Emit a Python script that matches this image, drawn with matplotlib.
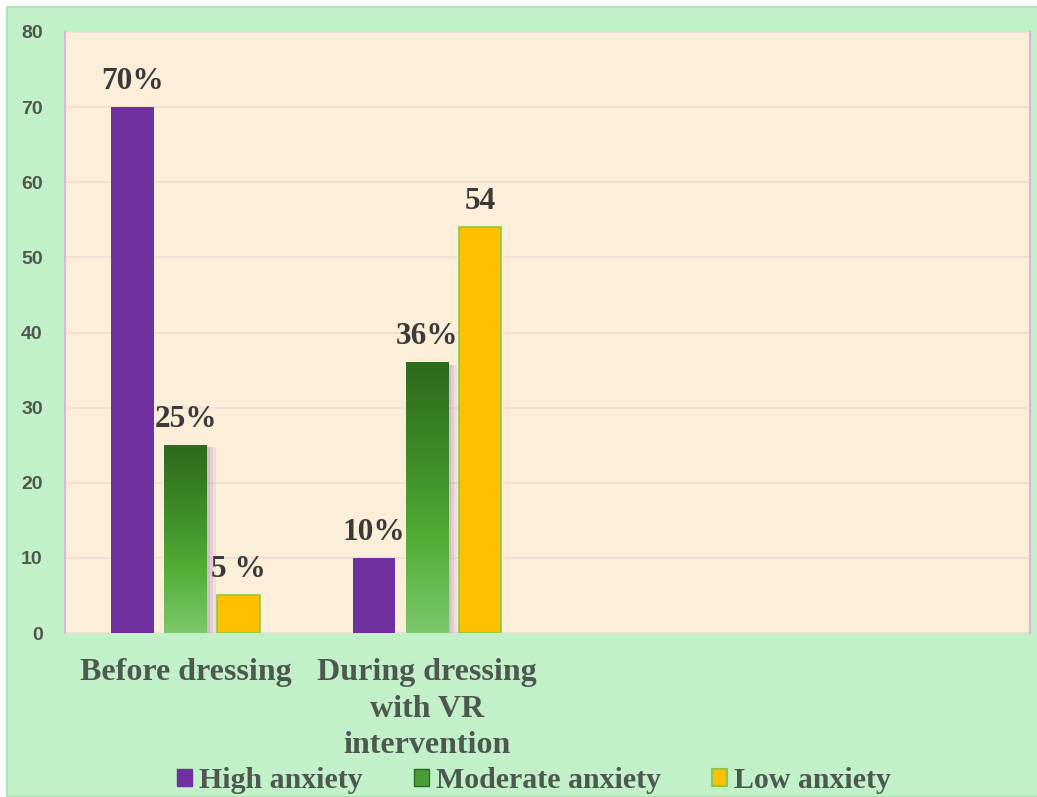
import numpy as np
import matplotlib
matplotlib.use("Agg")
import matplotlib.pyplot as plt
from matplotlib.patches import Patch, Rectangle
from matplotlib.colors import LinearSegmentedColormap

# ---- data ----
categories = ["Before dressing", "During dressing\nwith VR\nintervention", "", ""]
high_anxiety = [70, 10, None, None]
moderate_anxiety = [25, 36, None, None]
low_anxiety = [5, 54, None, None]
high_labels = ["70%", "10%"]
moderate_labels = ["25%", "36%"]
low_labels = ["5 %", "54"]
series_names = ["High anxiety", "Moderate anxiety", "Low anxiety"]
yticks = [0, 10, 20, 30, 40, 50, 60, 70, 80]

# ---- style ----
fig_green = "#C2F0C8"
plot_bg = "#FCEFDA"
grid_col = "#F1DCD6"
purple = "#7030A0"
yellow = "#FFC000"
text_col = "#4D5950"
label_col = "#3A3A3A"
green_cmap = LinearSegmentedColormap.from_list("g", ["#7CC86A", "#52AE37", "#3E8A27", "#2C6A1D"])

fig = plt.figure(figsize=(10.37, 7.97), dpi=100)
fig.patch.set_facecolor("white")
fig.patches.append(Rectangle((7 / 1037, 0), 1, 1 - 7 / 797, transform=fig.transFigure,
                             facecolor=fig_green, edgecolor="#A8E0B0", linewidth=1.2, zorder=-10))

ax = fig.add_axes([65 / 1037, 1 - 633 / 797, (1030 - 65) / 1037, (633 - 32) / 797])
ax.set_facecolor(plot_bg)

x = np.arange(len(categories))
w = 0.176
step = 0.22
lbl_font = dict(fontsize=22.5, fontweight="bold", family="Liberation Serif", color=label_col)

for i in range(len(categories)):
    if high_anxiety[i] is None:
        continue
    # high anxiety
    ax.bar(x[i] - step, high_anxiety[i], w, color=purple, zorder=3)
    ax.annotate(high_labels[i], (x[i] - step, high_anxiety[i]), xytext=(0, 8),
                textcoords="offset points", ha="center", va="bottom", zorder=5, **lbl_font)
    # moderate anxiety, gradient with soft shadow
    xm = x[i]
    for k, a in enumerate([0.12, 0.16, 0.2]):
        off = 0.012 * (3 - k)
        ax.add_patch(Rectangle((xm - w / 2 + off, 0), w, moderate_anxiety[i] - 0.3,
                               facecolor="#A070C0", alpha=a, linewidth=0, zorder=2))
    grad = np.linspace(0, 1, 256).reshape(-1, 1)
    ax.imshow(grad, cmap=green_cmap, origin="lower", aspect="auto",
              extent=[xm - w / 2, xm + w / 2, 0, moderate_anxiety[i]], zorder=3)
    ax.annotate(moderate_labels[i], (xm, moderate_anxiety[i]), xytext=(0, 8),
                textcoords="offset points", ha="center", va="bottom", zorder=5, **lbl_font)
    # low anxiety
    ax.bar(x[i] + step, low_anxiety[i], w, color=yellow, edgecolor="#8CC84B", linewidth=1.2, zorder=3)
    ax.annotate(low_labels[i], (x[i] + step, low_anxiety[i]), xytext=(0, 8),
                textcoords="offset points", ha="center", va="bottom", zorder=5, **lbl_font)

ax.set_xlim(-0.5, len(categories) - 0.5)
ax.set_ylim(0, 80)
ax.set_yticks(yticks)
ax.set_yticklabels([str(v) for v in yticks], fontsize=14, fontweight="bold",
                   family="Liberation Sans", color=text_col)
ax.set_xticks(x)
ax.set_xticklabels(categories, fontsize=23, fontweight="bold", family="Liberation Serif",
                   color=text_col, linespacing=1.35)
ax.tick_params(axis="both", length=0)
ax.tick_params(axis="y", pad=16)
ax.tick_params(axis="x", pad=18)
ax.yaxis.grid(True, color=grid_col, linewidth=1.2, zorder=0)
ax.set_axisbelow(True)
for s in ["top", "bottom"]:
    ax.spines[s].set_visible(False)
for s in ["left", "right"]:
    ax.spines[s].set_color("#D9B5DA")
    ax.spines[s].set_linewidth(1.5)

handles = [Patch(facecolor=purple, edgecolor=purple),
           Patch(facecolor="#4A9E35", edgecolor="#2C6A1D"),
           Patch(facecolor=yellow, edgecolor="#8CC84B", linewidth=1.5)]
leg = fig.legend(handles, series_names, loc="center", bbox_to_anchor=(0.515, 0.021), ncol=3,
                 frameon=False, handlelength=0.5, handleheight=0.5, handletextpad=0.25,
                 columnspacing=1.7, prop={"family": "Liberation Serif", "weight": "bold", "size": 21.5})
for t in leg.get_texts():
    t.set_color(text_col)

fig.savefig("out.png", dpi=100, facecolor=fig.get_facecolor())
